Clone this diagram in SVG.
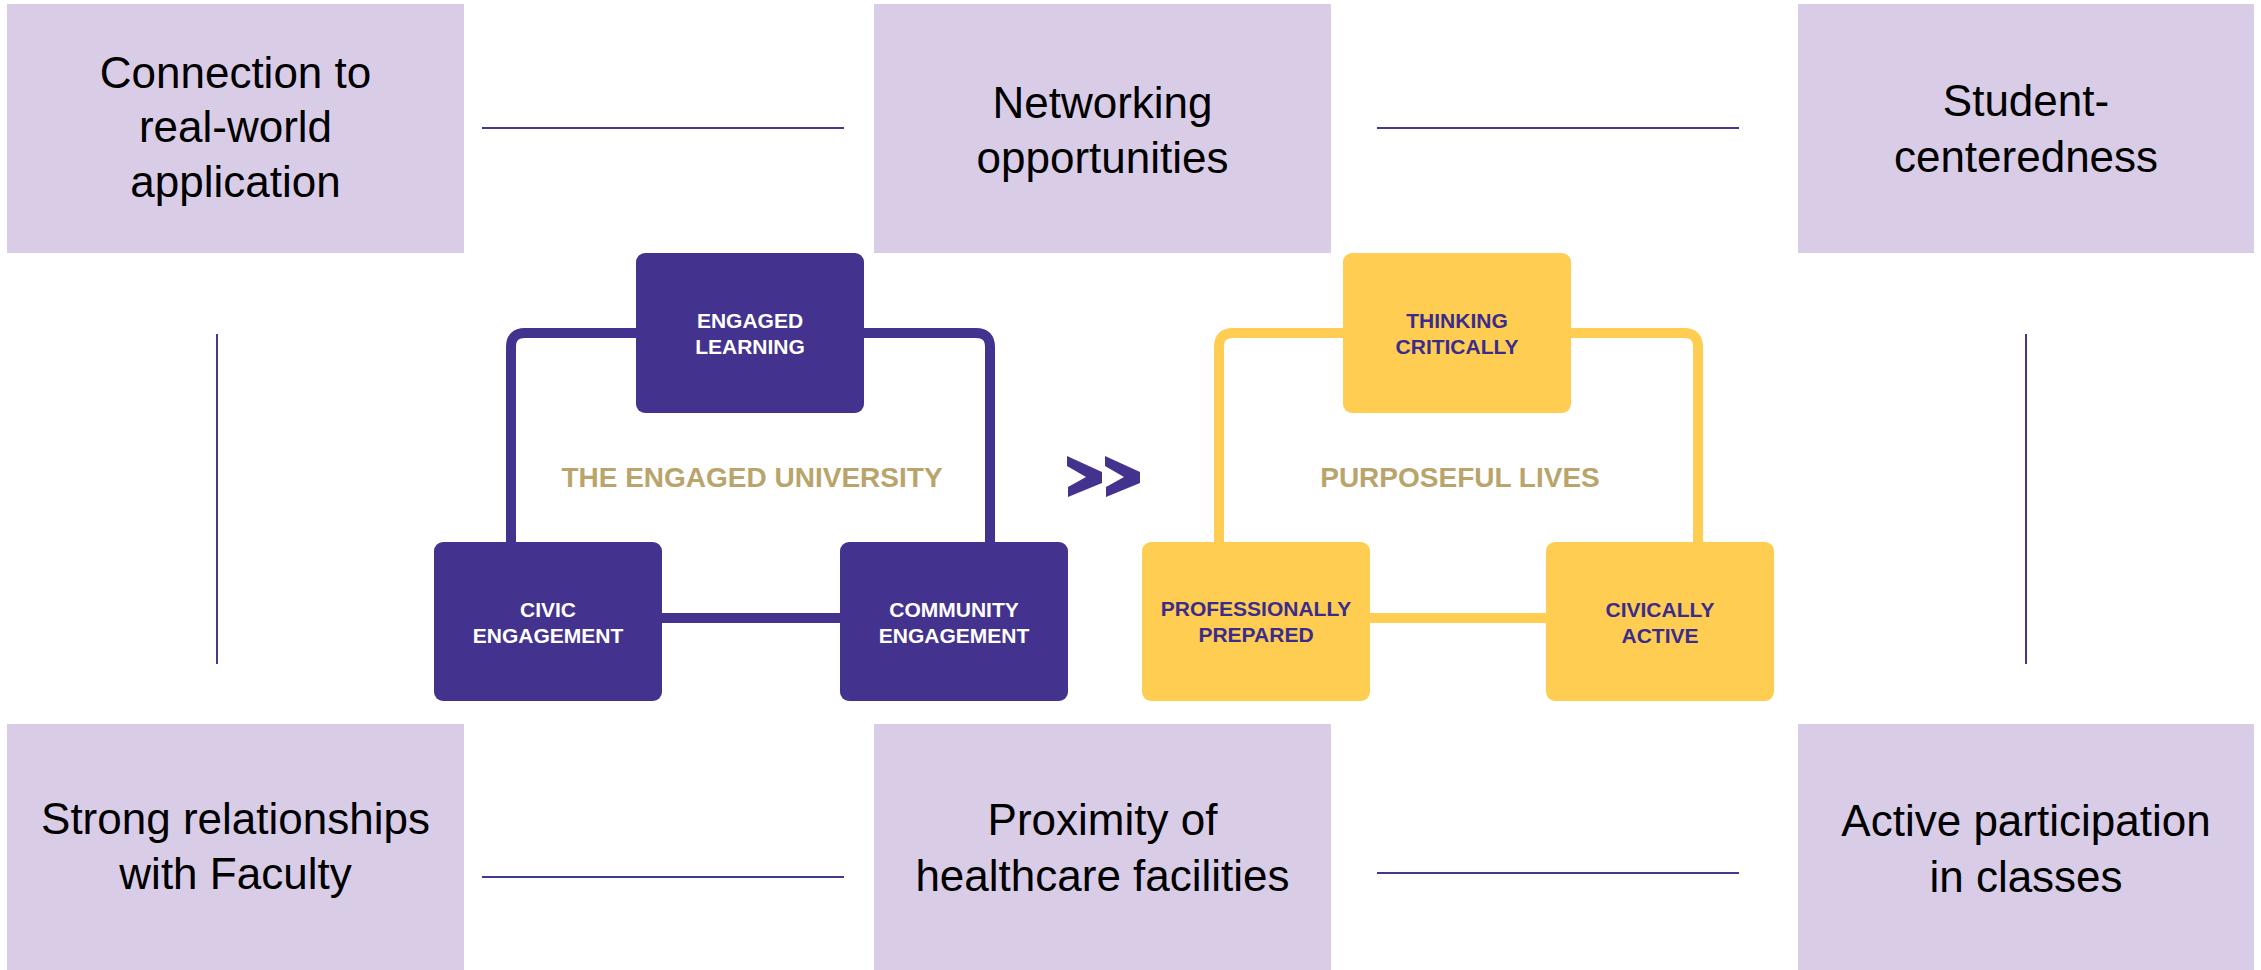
<svg xmlns="http://www.w3.org/2000/svg" width="2261" height="970" viewBox="0 0 2261 970">
<style>
.lav{fill:#D9CCE6}
.lt{font-family:"Liberation Sans",Arial,sans-serif;font-size:44px;fill:#000;text-anchor:middle}
.pb{fill:#43338F}
.yb{fill:#FECD52}
.bt{font-family:"Liberation Sans",Arial,sans-serif;font-weight:bold;font-size:21px;text-anchor:middle}
.w{fill:#FFFFFF}
.p{fill:#3B2C8C}
.gold{font-family:"Liberation Sans",Arial,sans-serif;font-weight:bold;font-size:28px;fill:#B9A46C;text-anchor:middle}
.thin{stroke:#3F3A8E;stroke-width:2;fill:none}
.loopP{stroke:#43338F;stroke-width:10;fill:none}
.loopY{stroke:#FECD52;stroke-width:10;fill:none}
</style>
<rect width="2261" height="970" fill="#FFFFFF"/>
<g id="connectors">
<line class="thin" x1="482" y1="128" x2="844" y2="128"/>
<line class="thin" x1="1377" y1="128" x2="1739" y2="128"/>
<line class="thin" x1="482" y1="877" x2="844" y2="877"/>
<line class="thin" x1="1377" y1="873" x2="1739" y2="873"/>
<line class="thin" x1="217" y1="334" x2="217" y2="664"/>
<line class="thin" x1="2026" y1="334" x2="2026" y2="664"/>
<path class="loopP" d="M511,545 V347 Q511,333 525,333 H976 Q990,333 990,347 V545"/>
<line class="loopP" x1="660" y1="618" x2="842" y2="618"/>
<path class="loopY" d="M1219,545 V347 Q1219,333 1233,333 H1684 Q1698,333 1698,347 V545"/>
<line class="loopY" x1="1368" y1="618" x2="1548" y2="618"/>
</g>
<g id="n-connection">
<rect class="lav" x="7" y="4" width="457" height="249"/>
<text class="lt" x="235.5" y="88">Connection to</text>
<text class="lt" x="235.5" y="142">real-world</text>
<text class="lt" x="235.5" y="197">application</text>
</g>
<g id="n-networking">
<rect class="lav" x="874" y="4" width="457" height="249"/>
<text class="lt" x="1102.5" y="118">Networking</text>
<text class="lt" x="1102.5" y="173">opportunities</text>
</g>
<g id="n-student">
<rect class="lav" x="1798" y="4" width="456" height="249"/>
<text class="lt" x="2026" y="116">Student-</text>
<text class="lt" x="2026" y="172">centeredness</text>
</g>
<g id="n-strong">
<rect class="lav" x="7" y="724" width="457" height="246"/>
<text class="lt" x="235.5" y="834">Strong relationships</text>
<text class="lt" x="235.5" y="889">with Faculty</text>
</g>
<g id="n-proximity">
<rect class="lav" x="874" y="724" width="457" height="246"/>
<text class="lt" x="1102.5" y="835">Proximity of</text>
<text class="lt" x="1102.5" y="891">healthcare facilities</text>
</g>
<g id="n-active">
<rect class="lav" x="1798" y="724" width="456" height="246"/>
<text class="lt" x="2026" y="836">Active participation</text>
<text class="lt" x="2026" y="892">in classes</text>
</g>
<g id="n-engaged-learning">
<rect class="pb" x="636" y="253" width="228" height="160" rx="9"/>
<text class="bt w" x="750" y="328">ENGAGED</text>
<text class="bt w" x="750" y="354">LEARNING</text>
</g>
<g id="n-civic">
<rect class="pb" x="434" y="542" width="228" height="159" rx="9"/>
<text class="bt w" x="548" y="617">CIVIC</text>
<text class="bt w" x="548" y="643">ENGAGEMENT</text>
</g>
<g id="n-community">
<rect class="pb" x="840" y="542" width="228" height="159" rx="9"/>
<text class="bt w" x="954" y="617">COMMUNITY</text>
<text class="bt w" x="954" y="643">ENGAGEMENT</text>
</g>
<g id="t-engaged-university">
<text class="gold" x="752" y="487">THE ENGAGED UNIVERSITY</text>
</g>
<g id="arrow">
<polygon class="pb" points="1067,456 1102,472 1102,483 1068,497 1068,487 1086,477 1067,466"/>
<polygon class="pb" points="1105,456 1140,472 1140,483 1106,497 1106,487 1124,477 1105,466"/>
</g>
<g id="n-thinking">
<rect class="yb" x="1343" y="253" width="228" height="160" rx="9"/>
<text class="bt p" x="1457" y="328">THINKING</text>
<text class="bt p" x="1457" y="354">CRITICALLY</text>
</g>
<g id="n-professionally">
<rect class="yb" x="1142" y="542" width="228" height="159" rx="9"/>
<text class="bt p" x="1256" y="616">PROFESSIONALLY</text>
<text class="bt p" x="1256" y="642">PREPARED</text>
</g>
<g id="n-civically">
<rect class="yb" x="1546" y="542" width="228" height="159" rx="9"/>
<text class="bt p" x="1660" y="617">CIVICALLY</text>
<text class="bt p" x="1660" y="643">ACTIVE</text>
</g>
<g id="t-purposeful">
<text class="gold" x="1460" y="487">PURPOSEFUL LIVES</text>
</g>
</svg>
